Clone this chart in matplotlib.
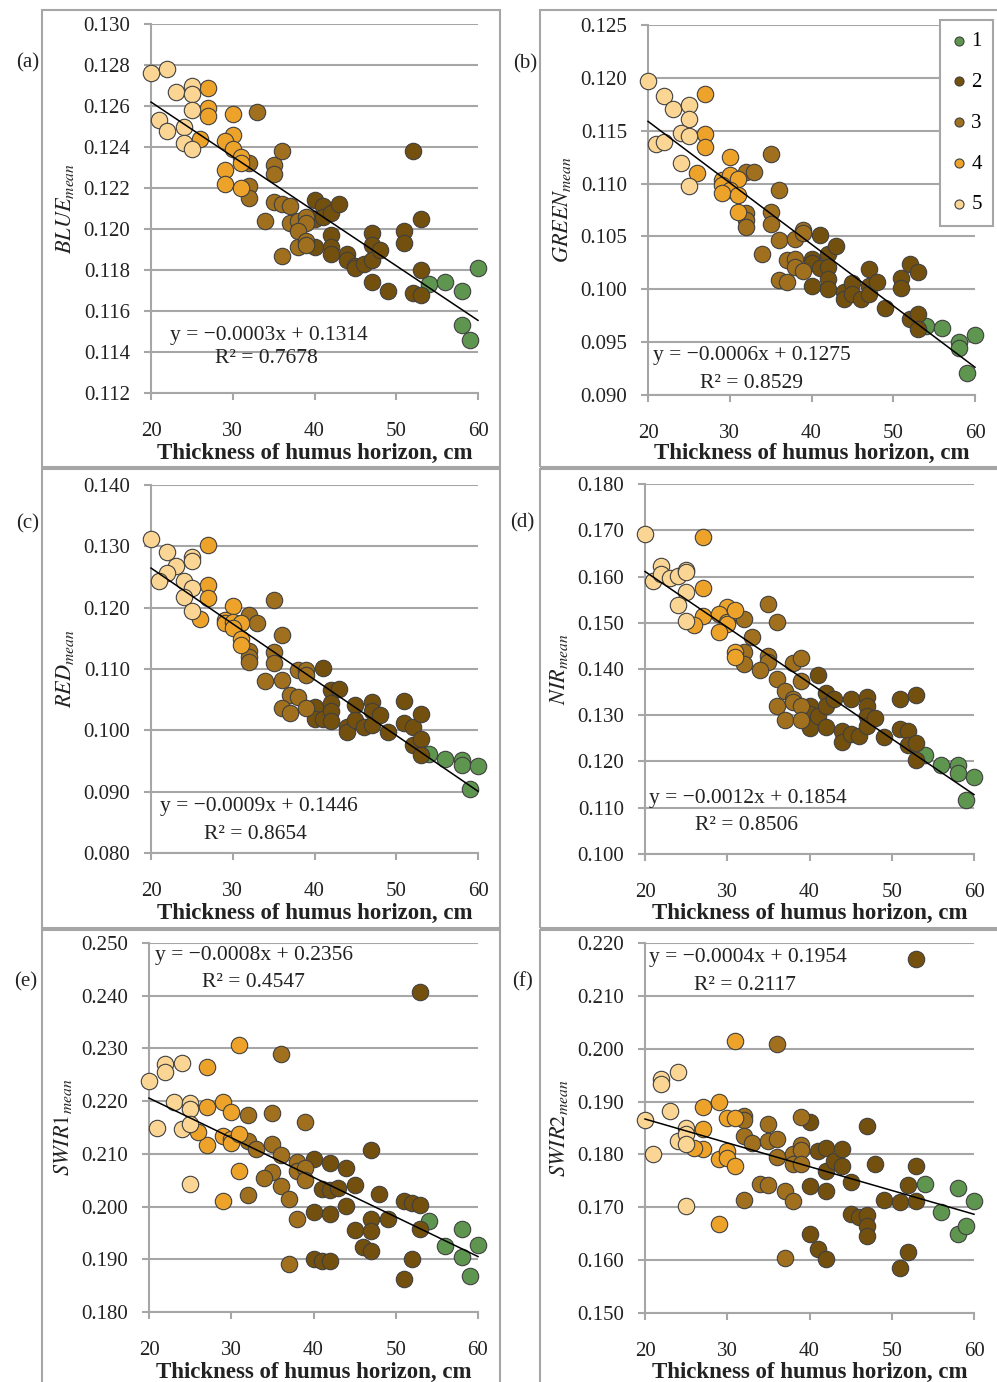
import numpy as np
import matplotlib.pyplot as plt
from matplotlib.patches import Rectangle
from matplotlib.ticker import FormatStrFormatter

plt.rcParams['font.family'] = ['Liberation Serif', 'DejaVu Serif']
plt.rcParams['mathtext.fontset'] = 'stix'

# class colours 1..5
CLASS_NAMES = ['1', '2', '3', '4', '5']
CLASS_COLORS = ['#5e9650', '#74500f', '#a0701e', '#eda32a', '#fad593']

# data per panel: one list per class (1..5)
BLUE_X = [
    [54, 56, 58, 60, 58, 59],
    [40, 40, 40, 41, 41, 42, 43, 42, 42, 42, 44, 44, 45, 45, 46, 47, 47, 47, 47, 48, 49, 51, 51, 52, 52, 53, 53, 53],
    [33, 32, 32, 32, 35, 35, 36, 35, 36, 37, 34, 37, 38, 39, 39, 38, 36, 38, 39, 39],
    [27, 27, 27, 26, 30, 30, 29, 30, 29, 31, 29, 31, 31],
    [20, 22, 23, 25, 25, 25, 21, 22, 24, 24, 25],
]
BLUE_Y = [
    [0.1173, 0.1174, 0.1170, 0.1181, 0.1153, 0.1146],
    [0.1214, 0.1205, 0.1191, 0.1211, 0.1206, 0.1208, 0.1212, 0.1197, 0.1191, 0.1188, 0.1188, 0.1185, 0.1182, 0.1181,
     0.1183, 0.1198, 0.1192, 0.1185, 0.1174, 0.1190, 0.1170, 0.1199, 0.1193, 0.1238, 0.1169, 0.1205, 0.1180, 0.1168],
    [0.1257, 0.1232, 0.1221, 0.1215, 0.1231, 0.1227, 0.1238, 0.1213, 0.1212, 0.1211, 0.1204, 0.1203, 0.1204, 0.1206,
     0.1203, 0.1199, 0.1187, 0.1191, 0.1194, 0.1192],
    [0.1269, 0.1259, 0.1255, 0.1244, 0.1256, 0.1246, 0.1243, 0.1239, 0.1229, 0.1235, 0.1222, 0.1220, 0.1232],
    [0.1276, 0.1278, 0.1267, 0.1270, 0.1266, 0.1258, 0.1253, 0.1248, 0.1250, 0.1242, 0.1239],
]

GREEN_X = [
    [54, 56, 58, 58, 60, 59],
    [41, 40, 40, 40, 41, 42, 42, 42, 42, 43, 44, 44, 45, 45, 46, 47, 47, 47, 48, 49, 51, 51, 52, 53, 52, 53, 53],
    [32, 33, 32, 32, 32, 35, 35, 35, 36, 36, 34, 36, 37, 37, 38, 38, 38, 39, 39, 39],
    [27, 27, 27, 26, 30, 29, 30, 31, 29, 30, 29, 31, 31],
    [20, 22, 23, 25, 25, 24, 25, 21, 22, 24, 25],
]
GREEN_Y = [
    [0.0965, 0.0963, 0.0950, 0.0944, 0.0957, 0.0921],
    [0.1051, 0.1029, 0.1025, 0.1003, 0.1020, 0.1033, 0.1021, 0.1010, 0.1000, 0.1041, 0.0997, 0.0991, 0.1006, 0.0996,
     0.0991, 0.1019, 0.1003, 0.0996, 0.1007, 0.0982, 0.1011, 0.1001, 0.1024, 0.1016, 0.0972, 0.0977, 0.0962],
    [0.1111, 0.1111, 0.1072, 0.1066, 0.1059, 0.1128, 0.1073, 0.1062, 0.1094, 0.1047, 0.1033, 0.1009, 0.1007, 0.1028,
     0.1029, 0.1048, 0.1021, 0.1056, 0.1053, 0.1017],
    [0.1185, 0.1147, 0.1135, 0.1110, 0.1125, 0.1103, 0.1108, 0.1104, 0.1099, 0.1094, 0.1091, 0.1089, 0.1073],
    [0.1197, 0.1183, 0.1171, 0.1174, 0.1161, 0.1148, 0.1145, 0.1137, 0.1139, 0.1119, 0.1098],
]

RED_X = [
    [54, 56, 58, 58, 60, 59],
    [41, 40, 40, 41, 42, 43, 42, 42, 42, 44, 44, 45, 45, 46, 47, 47, 47, 48, 49, 51, 51, 52, 52, 53, 53, 53],
    [32, 33, 32, 32, 32, 35, 35, 35, 36, 36, 34, 37, 36, 37, 38, 38, 39, 39, 39],
    [27, 27, 27, 26, 30, 29, 29, 30, 31, 30, 31, 31],
    [20, 22, 23, 22, 21, 25, 25, 24, 25, 24, 25],
]
RED_Y = [
    [0.0961, 0.0953, 0.0951, 0.0944, 0.0942, 0.0904],
    [0.1101, 0.1038, 0.1018, 0.1018, 0.1066, 0.1067, 0.1044, 0.1031, 0.1015, 0.1006, 0.0998, 0.1042, 0.1017, 0.1005,
     0.1046, 0.1031, 0.1009, 0.1025, 0.0997, 0.1048, 0.1012, 0.1006, 0.0976, 0.1027, 0.0986, 0.0959],
    [0.1188, 0.1175, 0.1130, 0.1120, 0.1111, 0.1213, 0.1127, 0.1110, 0.1156, 0.1082, 0.1080, 0.1058, 0.1036, 0.1029,
     0.1098, 0.1055, 0.1098, 0.1091, 0.1036],
    [0.1302, 0.1237, 0.1215, 0.1182, 0.1203, 0.1180, 0.1175, 0.1176, 0.1175, 0.1167, 0.1149, 0.1139],
    [0.1312, 0.1291, 0.1268, 0.1257, 0.1244, 0.1282, 0.1276, 0.1243, 0.1232, 0.1217, 0.1195],
]

NIR_X = [
    [54, 56, 58, 58, 60, 59],
    [41, 40, 40, 40, 41, 42, 42, 43, 42, 44, 44, 45, 45, 46, 47, 47, 47, 47, 48, 49, 51, 51, 52, 52, 53, 53, 53],
    [32, 33, 32, 32, 35, 35, 35, 36, 36, 34, 37, 36, 37, 38, 38, 38, 39, 39, 39, 39],
    [27, 27, 27, 26, 30, 29, 30, 30, 29, 31, 31, 31],
    [20, 21, 22, 22, 23, 24, 25, 25, 25, 24, 25],
]
NIR_Y = [
    [0.1213, 0.1192, 0.1193, 0.1175, 0.1166, 0.1116],
    [0.1388, 0.1321, 0.1303, 0.1272, 0.1298, 0.1348, 0.1319, 0.1335, 0.1274, 0.1265, 0.1242, 0.1335, 0.1260, 0.1256,
     0.1339, 0.1319, 0.1299, 0.1276, 0.1295, 0.1253, 0.1335, 0.1270, 0.1265, 0.1236, 0.1344, 0.1240, 0.1204],
    [0.1509, 0.1469, 0.1436, 0.1411, 0.1540, 0.1429, 0.1416, 0.1501, 0.1378, 0.1397, 0.1352, 0.1321, 0.1290, 0.1414,
     0.1335, 0.1328, 0.1424, 0.1375, 0.1321, 0.1289],
    [0.1686, 0.1576, 0.1514, 0.1496, 0.1535, 0.1518, 0.1502, 0.1497, 0.1481, 0.1527, 0.1436, 0.1426],
    [0.1691, 0.1591, 0.1622, 0.1606, 0.1596, 0.1601, 0.1614, 0.1609, 0.1566, 0.1539, 0.1503],
]

SWIR1_X = [
    [54, 56, 58, 58, 60, 59],
    [40, 40, 40, 41, 41, 42, 42, 42, 42, 43, 44, 44, 45, 45, 46, 47, 47, 47, 47, 48, 49, 51, 51, 52, 52, 53, 53, 53],
    [32, 32, 33, 32, 35, 35, 35, 36, 36, 36, 34, 37, 37, 38, 38, 38, 39, 39, 39],
    [27, 27, 27, 26, 29, 29, 30, 30, 30, 31, 31, 31, 29],
    [20, 21, 22, 22, 23, 24, 24, 25, 25, 25, 25],
]
SWIR1_Y = [
    [0.1972, 0.1925, 0.1957, 0.1905, 0.1928, 0.1868],
    [0.2090, 0.1989, 0.1900, 0.2033, 0.1896, 0.2083, 0.2031, 0.1985, 0.1896, 0.2036, 0.2074, 0.2001, 0.2041, 0.1955,
     0.1924, 0.2107, 0.1977, 0.1954, 0.1915, 0.2023, 0.1977, 0.2010, 0.1862, 0.2006, 0.1900, 0.2407, 0.2003, 0.1957],
    [0.2174, 0.2124, 0.2109, 0.2022, 0.2177, 0.2118, 0.2065, 0.2289, 0.2098, 0.2039, 0.2055, 0.2014, 0.1892, 0.2085,
     0.2067, 0.1977, 0.2161, 0.2074, 0.2050],
    [0.2264, 0.2188, 0.2117, 0.2142, 0.2198, 0.2133, 0.2179, 0.2128, 0.2120, 0.2306, 0.2137, 0.2067, 0.2010],
    [0.2238, 0.2150, 0.2270, 0.2256, 0.2199, 0.2272, 0.2147, 0.2197, 0.2185, 0.2157, 0.2042],
]

SWIR2_X = [
    [54, 56, 58, 58, 60, 59],
    [40, 40, 40, 41, 41, 42, 42, 42, 42, 43, 44, 44, 45, 45, 46, 47, 47, 47, 47, 48, 49, 51, 51, 52, 52, 53, 53, 53],
    [32, 32, 32, 32, 33, 34, 35, 35, 35, 36, 36, 36, 37, 37, 38, 38, 38, 39, 39, 39, 39],
    [27, 27, 27, 26, 29, 29, 29, 30, 30, 30, 31, 31, 31],
    [20, 21, 22, 22, 23, 24, 24, 25, 25, 25, 25],
]
SWIR2_Y = [
    [0.1744, 0.1692, 0.1737, 0.1650, 0.1711, 0.1664],
    [0.1861, 0.1741, 0.1649, 0.1806, 0.1622, 0.1813, 0.1768, 0.1730, 0.1602, 0.1788, 0.1811, 0.1778, 0.1747, 0.1687,
     0.1681, 0.1854, 0.1686, 0.1664, 0.1645, 0.1782, 0.1714, 0.1710, 0.1585, 0.1742, 0.1615, 0.2169, 0.1779, 0.1711],
    [0.1872, 0.1865, 0.1834, 0.1714, 0.1822, 0.1744, 0.1858, 0.1825, 0.1742, 0.2009, 0.1829, 0.1795, 0.1730, 0.1604,
     0.1801, 0.1782, 0.1711, 0.1870, 0.1817, 0.1809, 0.1782],
    [0.1889, 0.1848, 0.1810, 0.1813, 0.1899, 0.1792, 0.1669, 0.1869, 0.1807, 0.1793, 0.2015, 0.1868, 0.1778],
    [0.1865, 0.1800, 0.1943, 0.1934, 0.1883, 0.1956, 0.1825, 0.1850, 0.1839, 0.1820, 0.1702],
]

EQUATIONS = ['y = \u22120.0003x + 0.1314', 'y = \u22120.0006x + 0.1275', 'y = \u22120.0009x + 0.1446',
             'y = \u22120.0012x + 0.1854', 'y = \u22120.0008x + 0.2356', 'y = \u22120.0004x + 0.1954']
R2_TEXTS = ['R\u00b2 = 0.7678', 'R\u00b2 = 0.8529', 'R\u00b2 = 0.8654',
            'R\u00b2 = 0.8506', 'R\u00b2 = 0.4547', 'R\u00b2 = 0.2117']
YLABELS = ['BLUE', 'GREEN', 'RED', 'NIR', 'SWIR1', 'SWIR2']
PANEL_TAGS = ['(a)', '(b)', '(c)', '(d)', '(e)', '(f)']
YRANGES = [(0.112, 0.130, 0.002), (0.090, 0.125, 0.005), (0.080, 0.140, 0.010),
           (0.100, 0.180, 0.010), (0.180, 0.250, 0.010), (0.150, 0.220, 0.010)]

W, H = 997, 1382
GRID = '#a6a6a6'
TXT = '#222222'
fig = plt.figure(figsize=(W / 100, H / 100), dpi=100)

# panel frames (pixels: x0, y0, x1, y1)
for x0, x1 in [(42, 500), (540, 999)]:
    for y0, y1 in [(10, 467), (469, 928), (930, 1390)]:
        fig.add_artist(Rectangle((x0 / W, 1 - y1 / H), (x1 - x0) / W, (y1 - y0) / H,
                                 transform=fig.transFigure, fill=False, edgecolor=GRID, lw=1.5))

# axes boxes in pixels: left, top, right, bottom
boxes = [(151, 24, 478, 393), (648, 25, 975, 395),
         (151, 485, 478, 853), (645, 484, 974, 854),
         (149, 943, 478, 1312), (645, 943, 974, 1313)]
eq_pos = [((0.059, 0.155), (0.196, 0.093)), ((0.015, 0.108), (0.159, 0.032)),
          ((0.028, 0.125), (0.163, 0.049)), ((0.012, 0.151), (0.152, 0.076)),
          ((0.018, 0.967), (0.161, 0.892)), ((0.012, 0.960), (0.149, 0.884))]
xlabel_base = [459, 459, 919, 919, 1378, 1378]
all_x = [BLUE_X, GREEN_X, RED_X, NIR_X, SWIR1_X, SWIR2_X]
all_y = [BLUE_Y, GREEN_Y, RED_Y, NIR_Y, SWIR1_Y, SWIR2_Y]

for i in range(6):
    l, t, r, b = boxes[i]
    ax = fig.add_axes([l / W, 1 - b / H, (r - l) / W, (b - t) / H])
    ylo, yhi, step = YRANGES[i]
    ax.set_xlim(20, 60)
    ax.set_ylim(ylo, yhi)
    ax.set_xticks([20, 30, 40, 50, 60])
    ax.set_yticks(np.arange(ylo, yhi + step / 2, step))
    ax.yaxis.set_major_formatter(FormatStrFormatter('%.3f'))
    ax.grid(axis='y', color=GRID, lw=1.5)
    ax.set_axisbelow(True)
    for s in ['top', 'right']:
        ax.spines[s].set_visible(False)
    for s in ['left', 'bottom']:
        ax.spines[s].set_color(GRID)
        ax.spines[s].set_linewidth(1.5)
    ax.tick_params(axis='y', direction='out', length=5, width=1.5, color=GRID, labelsize=15,
                   labelcolor=TXT, pad=10)
    ax.tick_params(axis='x', direction='out', length=5, width=1.5, color=GRID, labelsize=15,
                   labelcolor=TXT, pad=16)

    xs, ys = all_x[i], all_y[i]
    for c in range(5):
        ax.scatter(xs[c], ys[c], s=140, color=CLASS_COLORS[c], edgecolor='#404040', linewidth=0.8,
                   clip_on=False, zorder=3, label=CLASS_NAMES[c])

    # linear trend
    fx = np.concatenate([np.array(v, float) for v in xs])
    fy = np.concatenate([np.array(v, float) for v in ys])
    k, m = np.polyfit(fx, fy, 1)
    lx = np.array([20, 60])
    ax.plot(lx, k * lx + m, color='black', lw=1.1, zorder=4, clip_on=False)

    (ex, ey), (rx, ry) = eq_pos[i]
    ax.text(ex, ey, EQUATIONS[i], transform=ax.transAxes, fontsize=15.5, va='center', ha='left',
            color=TXT, zorder=5)
    ax.text(rx, ry, R2_TEXTS[i], transform=ax.transAxes, fontsize=15.5, va='center', ha='left',
            color=TXT, zorder=5)

    ax.text(-86 / (r - l), 0.5, r'$%s_{mean}$' % YLABELS[i], transform=ax.transAxes, rotation=90,
            ha='center', va='center', fontsize=16, color=TXT)
    fig.text((l + r) / 2 / W, 1 - xlabel_base[i] / H, 'Thickness of humus horizon, cm', ha='center',
             va='baseline', fontsize=16.5, fontweight='bold', color=TXT)
    fig.text((l - 123) / W, 1 - (t + 39) / H, PANEL_TAGS[i], ha='center', va='center',
             fontsize=15, color=TXT)

    if i == 1:
        leg = ax.legend(loc='upper left', bbox_to_anchor=(940 / W, 1 - 20 / H),
                        bbox_transform=fig.transFigure, frameon=True, fancybox=False,
                        edgecolor=GRID, framealpha=1, markerscale=0.55, handletextpad=0.25,
                        handlelength=0.7, borderpad=0.55, labelspacing=1.02, borderaxespad=0,
                        fontsize=15)
        leg.get_frame().set_linewidth(1.5)
        leg.set_zorder(10)

fig.savefig('out.png', dpi=100, facecolor='white')
